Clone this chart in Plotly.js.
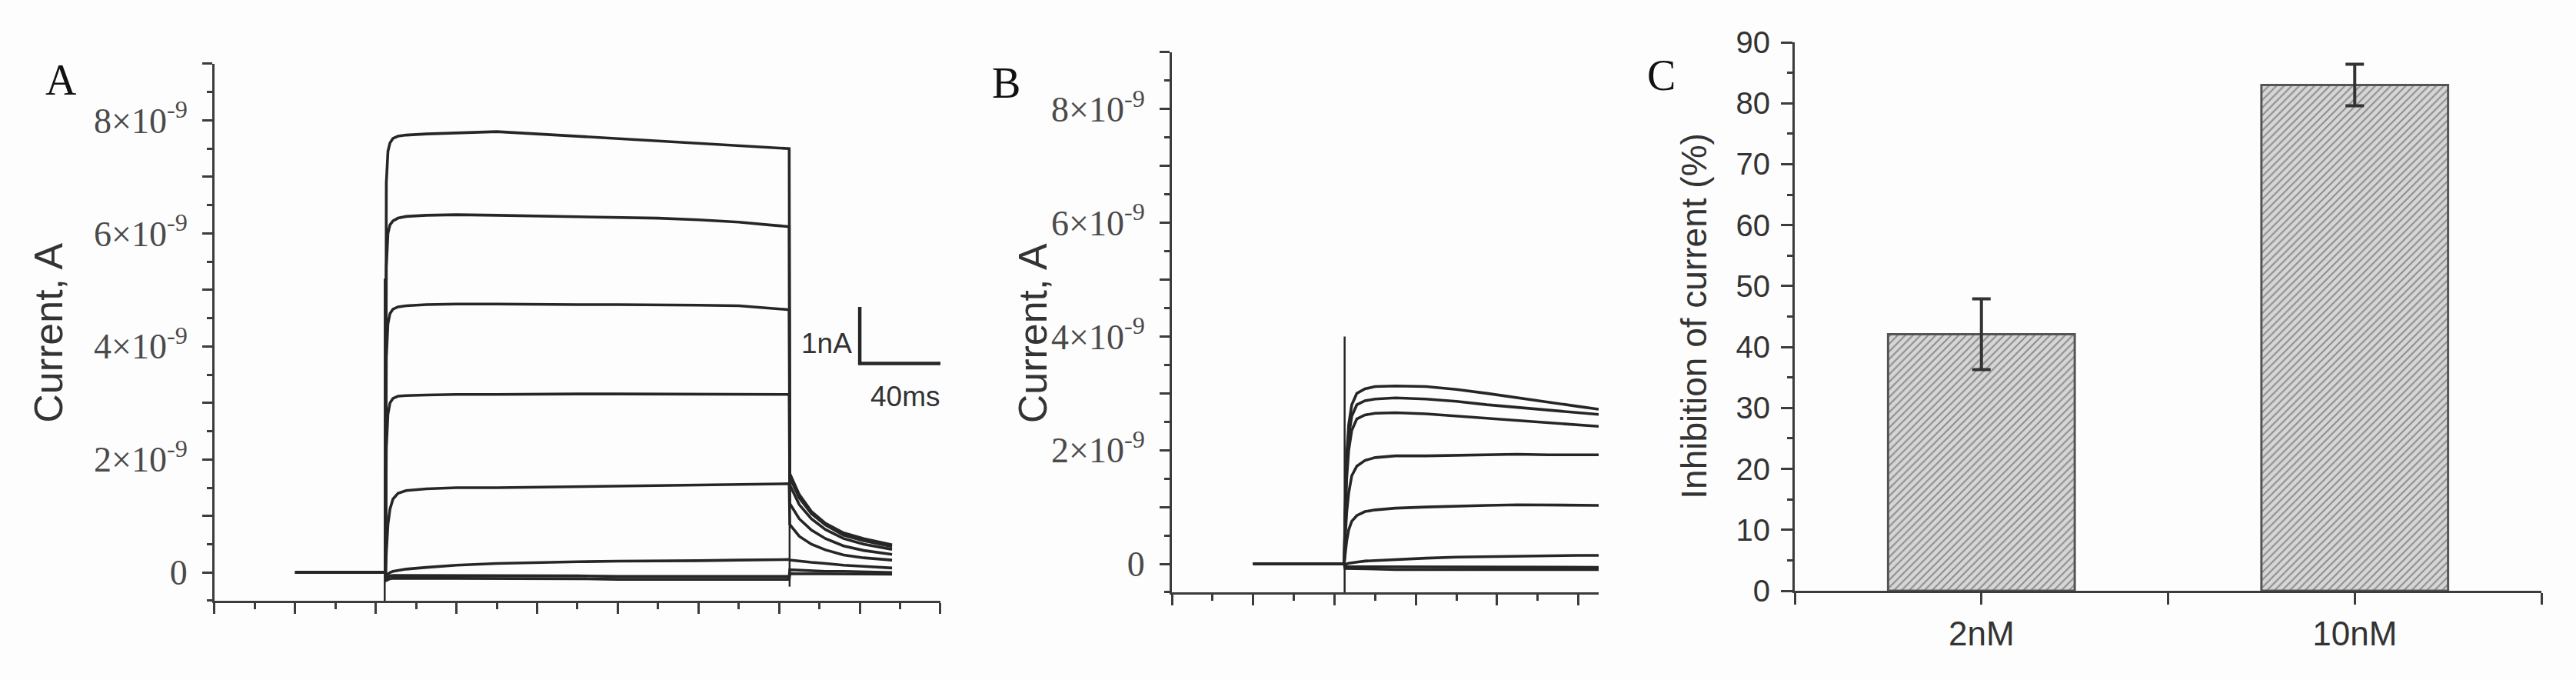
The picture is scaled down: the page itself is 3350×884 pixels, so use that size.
<!DOCTYPE html>
<html>
<head>
<meta charset="utf-8">
<script src="https://cdn.plot.ly/plotly-3.0.1.min.js"></script>
<style>
  html, body { margin: 0; padding: 0; background: #fdfdfd; }
  #plot { width: 3350px; height: 884px; }
</style>
</head>
<body>
<div id="plot"></div>
<script>
// panel A: time (ms) and current (nA)
var tA = [40, 84.8, 85.2, 86, 87, 88.5, 91, 95, 105, 120, 140, 160, 180, 200, 220, 240, 260, 275, 285, 285.3, 290, 296, 303, 312, 322, 336];
var a1 = [0, 0, 6.9, 7.45, 7.6, 7.68, 7.72, 7.74, 7.76, 7.78, 7.8, 7.76, 7.72, 7.68, 7.64, 7.6, 7.56, 7.52, 7.5, 1.75, 1.38, 1.08, 0.87, 0.7, 0.6, 0.49];
var a2 = [0, 0, 5.4, 6.0, 6.15, 6.22, 6.27, 6.3, 6.32, 6.33, 6.32, 6.31, 6.3, 6.29, 6.27, 6.24, 6.2, 6.15, 6.12, 1.68, 1.32, 1.04, 0.84, 0.66, 0.56, 0.46];
var a3 = [0, 0, 3.8, 4.4, 4.58, 4.66, 4.7, 4.72, 4.74, 4.75, 4.75, 4.74, 4.74, 4.74, 4.74, 4.73, 4.72, 4.68, 4.65, 1.55, 1.2, 0.95, 0.76, 0.6, 0.5, 0.41];
var a4 = [0, 0, 2.2, 2.8, 3.0, 3.08, 3.12, 3.13, 3.14, 3.15, 3.15, 3.16, 3.16, 3.16, 3.16, 3.16, 3.15, 3.15, 3.15, 1.22, 0.95, 0.75, 0.6, 0.47, 0.39, 0.32];
var a5 = [0, 0, 0.35, 0.85, 1.12, 1.3, 1.4, 1.45, 1.48, 1.5, 1.5, 1.51, 1.52, 1.53, 1.54, 1.55, 1.56, 1.56, 1.57, 0.85, 0.64, 0.5, 0.4, 0.31, 0.26, 0.22];
var a6 = [0, 0, -0.05, -0.02, 0, 0.02, 0.04, 0.06, 0.09, 0.13, 0.16, 0.18, 0.19, 0.2, 0.2, 0.21, 0.22, 0.23, 0.23, 0.22, 0.2, 0.18, 0.16, 0.13, 0.11, 0.08];
var a7 = [0, 0, -0.1, -0.08, -0.06, -0.05, -0.05, -0.05, -0.05, -0.05, -0.06, -0.06, -0.06, -0.07, -0.07, -0.07, -0.07, -0.07, -0.07, 0.05, 0.04, 0.03, 0.02, 0.02, 0.01, 0.0];
var a8 = [0, 0, -0.14, -0.12, -0.11, -0.1, -0.1, -0.1, -0.1, -0.1, -0.1, -0.11, -0.11, -0.12, -0.12, -0.12, -0.12, -0.12, -0.12, -0.02, -0.02, -0.03, -0.03, -0.03, -0.03, -0.03];
// capacitive spikes in A
var spikeOnA_t = [84.4, 84.4];
var spikeOnA_i = [-0.5, 5.2];
var spikeOffA_t = [285.2, 285.2];
var spikeOffA_i = [1.8, -0.25];
// scale bar in A (1 nA, 40 ms)
var barA_t = [320, 320, 360];
var barA_i = [4.7, 3.7, 3.7];

// panel B
var tB = [40, 84.8, 85.2, 86, 87, 88.5, 91, 95, 100, 110, 125, 140, 155, 170, 185, 200, 210];
var b1 = [0, 0, 0.9, 1.9, 2.45, 2.8, 3.0, 3.08, 3.12, 3.13, 3.12, 3.07, 3.0, 2.92, 2.84, 2.77, 2.72];
var b2 = [0, 0, 0.8, 1.7, 2.25, 2.6, 2.8, 2.87, 2.9, 2.92, 2.9, 2.86, 2.8, 2.75, 2.7, 2.66, 2.63];
var b3 = [0, 0, 0.7, 1.5, 2.0, 2.35, 2.55, 2.62, 2.65, 2.66, 2.64, 2.6, 2.56, 2.52, 2.48, 2.45, 2.42];
var b4 = [0, 0, 0.4, 0.9, 1.25, 1.55, 1.72, 1.82, 1.87, 1.9, 1.9, 1.91, 1.93, 1.93, 1.92, 1.92, 1.92];
var b5 = [0, 0, 0.15, 0.4, 0.6, 0.75, 0.85, 0.92, 0.95, 0.98, 1.0, 1.02, 1.03, 1.04, 1.04, 1.03, 1.03];
var b6 = [0, 0, -0.03, 0, 0.01, 0.02, 0.03, 0.05, 0.06, 0.08, 0.1, 0.12, 0.13, 0.14, 0.15, 0.15, 0.15];
var b7 = [0, 0, -0.05, -0.05, -0.05, -0.05, -0.05, -0.05, -0.05, -0.05, -0.06, -0.06, -0.06, -0.06, -0.06, -0.06, -0.06];
var b8 = [0, 0, -0.08, -0.08, -0.09, -0.09, -0.09, -0.09, -0.09, -0.1, -0.1, -0.1, -0.1, -0.1, -0.1, -0.1, -0.1];
var spikeOnB_t = [85, 85];
var spikeOnB_i = [-0.5, 4.0];

// panel C
var doses = ["2nM", "10nM"];
var inhibition = [42.1, 83.0];
var inhibitionErr = [5.8, 3.4];

// y tick labels for A and B
var iTickVals = [0, 1, 2, 3, 4, 5, 6, 7, 8, 9];
var iTickText = ["0", "", "2\u00d710<sup>-9</sup>", "", "4\u00d710<sup>-9</sup>", "", "6\u00d710<sup>-9</sup>", "", "8\u00d710<sup>-9</sup>", ""];

var ink = "#262626";
var axisInk = "#3c3c3c";

function trace(x, y, xa, ya, w) {
  return {
    x: x, y: y, xaxis: xa, yaxis: ya,
    type: "scatter", mode: "lines",
    line: {color: ink, width: w || 3.6},
    hoverinfo: "skip", showlegend: false
  };
}

var data = [];
[a1, a2, a3, a4, a5, a6, a7, a8].forEach(function (s) { data.push(trace(tA, s, "x", "y")); });
data.push(trace(spikeOnA_t, spikeOnA_i, "x", "y", 2.5));
data.push(trace(spikeOffA_t, spikeOffA_i, "x", "y", 2.5));
data.push(trace(barA_t, barA_i, "x", "y", 4.5));
[b1, b2, b3, b4, b5, b6, b7, b8].forEach(function (s) { data.push(trace(tB, s, "x2", "y2")); });
data.push(trace(spikeOnB_t, spikeOnB_i, "x2", "y2", 2.5));

var doseX = doses.map(function (d, i) { return i; });
data.push({
  type: "bar", x: doseX, y: inhibition, xaxis: "x3", yaxis: "y3",
  width: 0.5,
  marker: {
    color: "#d6d6d6",
    line: {color: "#555555", width: 3},
    pattern: {shape: "/", bgcolor: "#d6d6d6", fgcolor: "#8e8e8e", size: 7, solidity: 0.3}
  },
  error_y: {type: "data", array: inhibitionErr, visible: true, color: "#333333", thickness: 4, width: 12},
  hoverinfo: "skip", showlegend: false
});

function timeAxis(domain, range, anchor) {
  return {
    domain: domain, range: range, anchor: anchor,
    showline: true, linecolor: axisInk, linewidth: 3,
    ticks: "outside", tick0: 0, dtick: 40, ticklen: 14, tickwidth: 3, tickcolor: axisInk,
    minor: {ticks: "outside", dtick: 20, tick0: 0, ticklen: 8, tickwidth: 3, tickcolor: axisInk},
    showticklabels: false, showgrid: false, zeroline: false, fixedrange: true
  };
}

function currentAxis(domain, anchor) {
  return {
    domain: domain, range: [-0.5, 9], anchor: anchor,
    showline: true, linecolor: axisInk, linewidth: 3,
    ticks: "outside", tickmode: "array", tickvals: iTickVals, ticktext: iTickText,
    ticklen: 13, tickwidth: 3, tickcolor: axisInk,
    minor: {ticks: "outside", dtick: 0.5, tick0: 0, ticklen: 7, tickwidth: 3, tickcolor: axisInk},
    tickfont: {family: "Liberation Serif", size: 46, color: "#4a4a4a"},
    ticklabelstandoff: 10,
    showgrid: false, zeroline: false, fixedrange: true
  };
}

var sansTitle = {family: "Liberation Sans", size: 52, color: "#333333"};
var letterFont = {family: "Liberation Serif", size: 56, color: "#111111"};

var layout = {
  width: 3350, height: 884,
  margin: {l: 0, r: 0, t: 0, b: 0},
  paper_bgcolor: "#fdfdfd", plot_bgcolor: "rgba(0,0,0,0)",
  showlegend: false,
  xaxis: timeAxis([0.08328, 0.36507], [0, 360], "y"),
  yaxis: currentAxis([0.11652, 0.90611], "x"),
  xaxis2: timeAxis([0.45493, 0.62060], [0, 210], "y2"),
  yaxis2: currentAxis([0.12896, 0.92308], "x2"),
  xaxis3: {
    domain: [0.69672, 0.98657], range: [-0.5, 1.5], anchor: "y3",
    showline: true, linecolor: axisInk, linewidth: 3,
    ticks: "outside", tickmode: "array",
    tickvals: [-0.5, 0, 0.5, 1, 1.5],
    ticktext: ["", doses[0], "", doses[1], ""],
    ticklen: 15, tickwidth: 3, tickcolor: axisInk,
    tickfont: {family: "Liberation Sans", size: 44, color: "#333333"},
    showgrid: false, zeroline: false, fixedrange: true
  },
  yaxis3: {
    domain: [0.13122, 0.93778], range: [0, 90], anchor: "x3",
    showline: true, linecolor: axisInk, linewidth: 3,
    ticks: "outside", tick0: 0, dtick: 10, ticklen: 15, tickwidth: 3, tickcolor: axisInk,
    minor: {ticks: "outside", dtick: 5, tick0: 0, ticklen: 7, tickwidth: 3, tickcolor: axisInk},
    tickfont: {family: "Liberation Sans", size: 40, color: "#333333"},
    ticklabelstandoff: 6,
    showgrid: false, zeroline: false, fixedrange: true
  },
  annotations: [
    {text: "A", xref: "paper", yref: "paper", x: 0.0170, y: 0.9200, showarrow: false, font: letterFont},
    {text: "B", xref: "paper", yref: "paper", x: 0.3905, y: 0.9150, showarrow: false, font: letterFont},
    {text: "C", xref: "paper", yref: "paper", x: 0.6450, y: 0.9270, showarrow: false, font: letterFont},
    {text: "Current, A", xref: "paper", yref: "paper", x: 0.0095, y: 0.5102, textangle: -90, showarrow: false, font: sansTitle},
    {text: "Current, A", xref: "paper", yref: "paper", x: 0.4010, y: 0.5102, textangle: -90, showarrow: false, font: sansTitle},
    {text: "Inhibition of current (%)", xref: "paper", yref: "paper", x: 0.6575, y: 0.5350, textangle: -90, showarrow: false,
     font: {family: "Liberation Sans", size: 46, color: "#333333"}},
    {text: "1nA", xref: "x", yref: "y", x: 317, y: 4.05, xanchor: "right", showarrow: false,
     font: {family: "Liberation Sans", size: 37, color: "#333333"}},
    {text: "40ms", xref: "x", yref: "y", x: 342.5, y: 3.12, showarrow: false,
     font: {family: "Liberation Sans", size: 37, color: "#333333"}}
  ]
};

Plotly.newPlot("plot", data, layout, {staticPlot: true, displayModeBar: false});
</script>
</body>
</html>
